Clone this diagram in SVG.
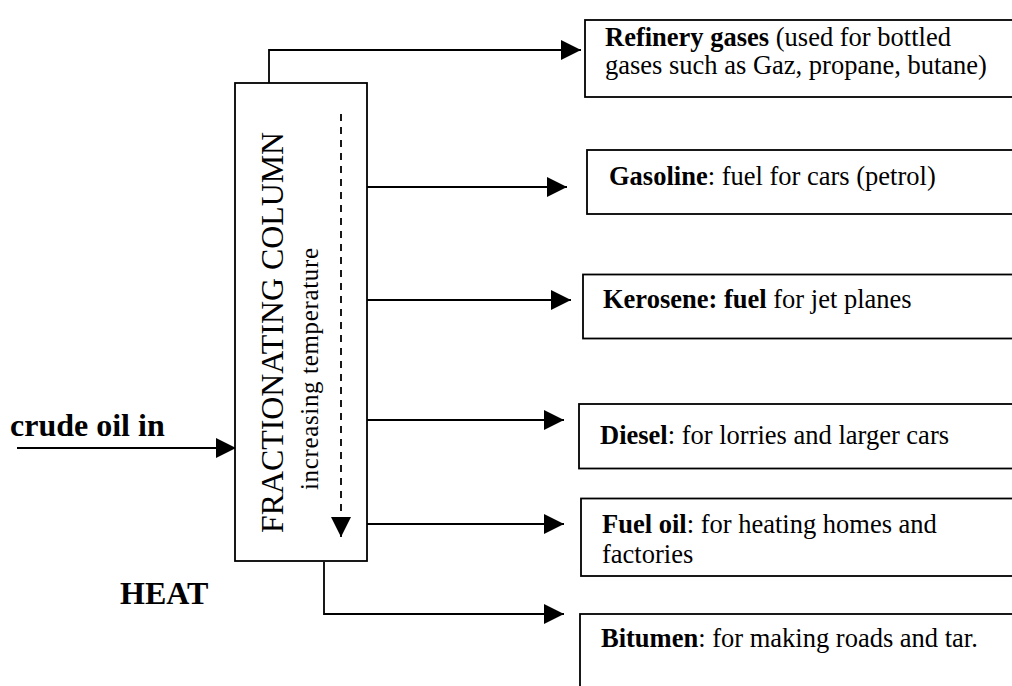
<svg xmlns="http://www.w3.org/2000/svg" width="1012" height="686" viewBox="0 0 1012 686">
<style>
text{font-family:"Liberation Serif","Times New Roman",serif;fill:#000}
.box{fill:#fff;stroke:#000;stroke-width:1.8}
.ln{fill:none;stroke:#000;stroke-width:1.8}
.bt{font-size:26.5px}
.b{font-weight:bold}
</style>
<defs>
<marker id="ah" viewBox="0 0 20 20" refX="20" refY="10" markerWidth="20" markerHeight="20" markerUnits="userSpaceOnUse" orient="auto">
<path d="M0,0 L20,10 L0,20 z" fill="#000" stroke="none"/>
</marker>
</defs>
<rect width="1012" height="686" fill="#fff"/>
<g id="connectors">
<path class="ln" d="M269,83 V50 H581" marker-end="url(#ah)"/>
<path class="ln" d="M367,187 H567" marker-end="url(#ah)"/>
<path class="ln" d="M367,300 H571" marker-end="url(#ah)"/>
<path class="ln" d="M367,420 H564" marker-end="url(#ah)"/>
<path class="ln" d="M367,524 H564" marker-end="url(#ah)"/>
<path class="ln" d="M324,562 V614 H564" marker-end="url(#ah)"/>
<path class="ln" d="M17,448 H236" marker-end="url(#ah)"/>
</g>
<g id="column">
<rect class="box" x="235" y="83" width="132" height="478"/>
<text transform="translate(283,533) rotate(-90)" font-size="31" textLength="401" lengthAdjust="spacingAndGlyphs">FRACTIONATING COLUMN</text>
<text transform="translate(318,490) rotate(-90)" font-size="25" textLength="242" lengthAdjust="spacing">increasing  temperature</text>
<path class="ln" d="M341,114 V537" stroke-dasharray="7 6" marker-end="url(#ah)"/>
</g>
<g id="crude-oil">
<text x="10" y="436" font-size="32" font-weight="bold">crude oil in</text>
</g>
<g id="heat">
<text x="120" y="604" font-size="32" font-weight="bold">HEAT</text>
</g>
<g id="refinery-gases">
<rect class="box" x="585" y="20" width="440" height="77"/>
<text class="bt" x="605" y="46"><tspan class="b">Refinery gases</tspan> (used for bottled</text>
<text class="bt" x="605" y="73.5">gases such as Gaz, propane, butane)</text>
</g>
<g id="gasoline">
<rect class="box" x="587" y="150" width="440" height="64"/>
<text class="bt" x="609" y="185"><tspan class="b">Gasoline</tspan>: fuel for cars (petrol)</text>
</g>
<g id="kerosene">
<rect class="box" x="583" y="274.5" width="440" height="64"/>
<text class="bt" x="603" y="307.5"><tspan class="b">Kerosene: fuel</tspan> for jet planes</text>
</g>
<g id="diesel">
<rect class="box" x="579" y="404" width="440" height="64.5"/>
<text class="bt" x="600" y="444"><tspan class="b">Diesel</tspan>: for lorries and larger cars</text>
</g>
<g id="fuel-oil">
<rect class="box" x="581" y="498.5" width="440" height="77.5"/>
<text class="bt" x="602" y="532.5"><tspan class="b">Fuel oil</tspan>: for heating homes and</text>
<text class="bt" x="602" y="563.3">factories</text>
</g>
<g id="bitumen">
<rect class="box" x="580" y="614" width="440" height="90"/>
<text class="bt" x="601" y="647.3"><tspan class="b">Bitumen</tspan>: for making roads and tar.</text>
</g>
</svg>
